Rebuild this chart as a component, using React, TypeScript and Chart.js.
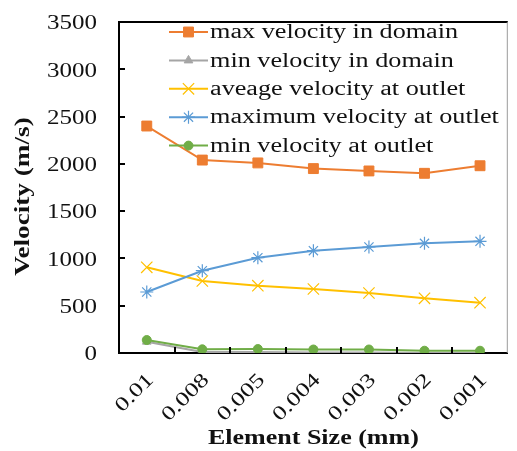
import React, { useEffect, useRef } from "react";
import { Chart, registerables } from "chart.js";
import { drawPoint } from "chart.js/helpers";

Chart.register(...registerables);

const categories = ["0.01", "0.008", "0.005", "0.004", "0.003", "0.002", "0.001"];
const maxDomain = [2400, 2040, 2010, 1950, 1925, 1900, 1980];
const minDomain = [120, 10, 10, 5, 5, 0, 0];
const avgOutlet = [906, 761, 712, 677, 634, 578, 532];
const maxOutlet = [645, 870, 1008, 1082, 1121, 1160, 1181];
const minOutlet = [137, 39, 42, 37, 37, 24, 24];
const yTicks = [0, 500, 1000, 1500, 2000, 2500, 3000, 3500];
const xTitle = "Element Size (mm)";
const yTitle = "Velocity (m/s)";

const FONT = "'Liberation Serif', 'Times New Roman', serif";
const STRETCH = 1.3;

const seriesDefs = [
  { label: "max velocity in domain", data: maxDomain, color: "#ED7D31", style: "rect", radius: 7 },
  { label: "min velocity in domain", data: minDomain, color: "#A5A5A5", style: "triangle", radius: 5 },
  { label: "aveage velocity at outlet", data: avgOutlet, color: "#FFC000", style: "crossRot", radius: 8 },
  { label: "maximum velocity at outlet", data: maxOutlet, color: "#5B9BD5", style: "star", radius: 6.5 },
  { label: "min velocity at outlet", data: minOutlet, color: "#70AD47", style: "circle", radius: 4.5 },
];

function drawText(
  ctx: CanvasRenderingContext2D,
  text: string,
  x: number,
  y: number,
  opts: { rot?: number; align?: CanvasTextAlign; baseline?: CanvasTextBaseline; font: string; sx: number }
) {
  ctx.save();
  ctx.translate(x, y);
  if (opts.rot) ctx.rotate(opts.rot);
  ctx.scale(opts.sx, 1);
  ctx.font = opts.font;
  ctx.textAlign = opts.align || "left";
  ctx.textBaseline = opts.baseline || "middle";
  ctx.fillStyle = "#111";
  ctx.fillText(text, 0, 0);
  ctx.restore();
}

const framePlugin = {
  id: "frame",
  afterDraw(chart: any) {
    const { ctx, chartArea } = chart;
    const { left, right, top, bottom } = chartArea;
    const x = chart.scales.x;
    const y = chart.scales.y;
    ctx.save();
    // top and right borders
    ctx.strokeStyle = "#000";
    ctx.lineWidth = 2;
    ctx.beginPath();
    ctx.moveTo(left, top);
    ctx.lineTo(right, top);
    ctx.stroke();
    ctx.strokeStyle = "#9a9a9a";
    ctx.lineWidth = 1;
    ctx.beginPath();
    ctx.moveTo(right - 0.5, top);
    ctx.lineTo(right - 0.5, bottom);
    ctx.stroke();
    // inward tick marks
    ctx.strokeStyle = "#000";
    ctx.lineWidth = 2;
    ctx.beginPath();
    yTicks.forEach((v) => {
      const py = Math.round(y.getPixelForValue(v));
      ctx.moveTo(left, py);
      ctx.lineTo(left + 6, py);
    });
    for (let i = 1; i < categories.length; i++) {
      const px = Math.round((x.getPixelForValue(i - 1) + x.getPixelForValue(i)) / 2);
      ctx.moveTo(px, bottom);
      ctx.lineTo(px, bottom - 6);
    }
    ctx.stroke();

    const tickFont = `20px ${FONT}`;
    const titleFont = `bold 20px ${FONT}`;
    // y tick labels
    yTicks.forEach((v) => {
      drawText(ctx, String(v), left - 22, y.getPixelForValue(v) + 2, { align: "right", font: tickFont, sx: 1.25 });
    });
    // x tick labels, rotated 45deg
    categories.forEach((c, i) => {
      drawText(ctx, c, x.getPixelForValue(i) + 4, bottom + 24, {
        rot: -Math.PI / 4,
        align: "right",
        font: tickFont,
        sx: STRETCH,
      });
    });
    // axis titles
    drawText(ctx, xTitle, (left + right) / 2, bottom + 86, { align: "center", font: titleFont, sx: STRETCH });
    drawText(ctx, yTitle, left - 95, (top + bottom) / 2 + 9, {
      rot: -Math.PI / 2,
      align: "center",
      font: titleFont,
      sx: 1.36,
    });

    // legend
    chart.data.datasets.forEach((ds: any, i: number) => {
      const ly = top + 10 + i * 28.4;
      const lx = left + 50;
      ctx.strokeStyle = ds.borderColor;
      ctx.lineWidth = 2;
      ctx.beginPath();
      ctx.moveTo(lx, ly);
      ctx.lineTo(lx + 39, ly);
      ctx.stroke();
      ctx.fillStyle = ds.pointBackgroundColor;
      ctx.strokeStyle = ds.pointBorderColor;
      ctx.lineWidth = ds.pointBorderWidth;
      drawPoint(ctx, { pointStyle: ds.pointStyle, rotation: 0, radius: ds.pointRadius, borderWidth: ds.pointBorderWidth }, lx + 19.5, ly);
      drawText(ctx, ds.label, lx + 41, ly + 1, { align: "left", font: tickFont, sx: 1.31 });
    });
    ctx.restore();
  },
};

export default function App() {
  const ref = useRef<HTMLCanvasElement | null>(null);
  useEffect(() => {
    if (!ref.current) return;
    const chart = new Chart(ref.current, {
      type: "line",
      data: {
        labels: categories,
        datasets: seriesDefs.map((s, i) => ({
          label: s.label,
          data: s.data,
          borderColor: s.color,
          backgroundColor: s.color,
          borderWidth: 2,
          pointStyle: s.style as any,
          pointRadius: s.radius,
          pointBackgroundColor: s.color,
          pointBorderColor: s.color,
          pointBorderWidth: s.style === "crossRot" || s.style === "star" ? 1.2 : 1,
          tension: 0,
          fill: false,
          order: seriesDefs.length - i,
        })),
      },
      options: {
        responsive: false,
        animation: false,
        layout: { padding: { left: 0, top: 22, right: 2, bottom: 0 } },
        plugins: { legend: { display: false }, tooltip: { enabled: false } },
        scales: {
          x: {
            type: "category",
            offset: true,
            grid: { display: false, drawTicks: false },
            border: { display: true, color: "#000", width: 2 },
            ticks: { display: false },
            title: { display: false },
            afterFit(scale: any) {
              scale.height = 98;
            },
          },
          y: {
            min: 0,
            max: 3500,
            grid: { display: false, drawTicks: false },
            border: { display: true, color: "#000", width: 2 },
            ticks: { display: false, stepSize: 500 },
            title: { display: false },
            afterFit(scale: any) {
              scale.width = 119;
            },
          },
        },
      },
      plugins: [framePlugin],
    });
    return () => chart.destroy();
  }, []);
  return (
    <div style={{ position: "fixed", left: 0, top: 0, width: 517, height: 451, background: "#fff" }}>
      <canvas ref={ref} width={517} height={451} />
    </div>
  );
}
